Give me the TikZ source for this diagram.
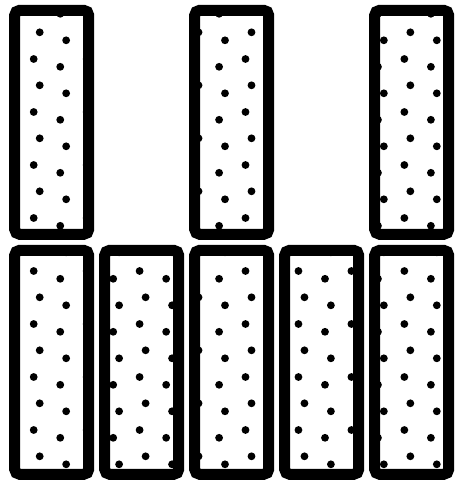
\documentclass[tikz,border=0pt]{standalone}
\begin{document}
\begin{tikzpicture}[x=1pt,y=-1pt,
  bar/.style={draw=black, line width=11pt, rounded corners=5pt},
  dot/.style={fill=black}]
\useasboundingbox (0,0) rectangle (465,482);
% dot pattern clipped to the inside of the bars
\begin{scope}
\clip (14.7,10.3) rectangle (88.7,234.3)
      (194.7,10.3) rectangle (268.7,234.3)
      (374.7,10.3) rectangle (448.7,234.3)
      (14.7,250.3) rectangle (88.7,474.3)
      (104.7,250.3) rectangle (178.7,474.3)
      (194.7,250.3) rectangle (268.7,474.3)
      (284.7,250.3) rectangle (358.7,474.3)
      (374.7,250.3) rectangle (448.7,474.3);
\foreach \i in {-1,...,9}{
  \foreach \j in {-1,...,9}{
    \fill[dot] (\i*52.95+39.7, \j*53+32.3) circle (3.9pt);
    \fill[dot] (\i*52.95+13.2, \j*53+40.3) circle (3.9pt);
    \fill[dot] (\i*52.95+33.7, \j*53+59.0) circle (3.9pt);
    \fill[dot] (\i*52.95+7.3,  \j*53+66.8) circle (3.9pt);
  }
}
\end{scope}
% bars
\foreach \x in {14.7,194.7,374.7}{
  \draw[bar] (\x,10.3) rectangle ++(74,224);
}
\foreach \x in {14.7,104.7,194.7,284.7,374.7}{
  \draw[bar] (\x,250.3) rectangle ++(74,224);
}
\end{tikzpicture}
\end{document}
